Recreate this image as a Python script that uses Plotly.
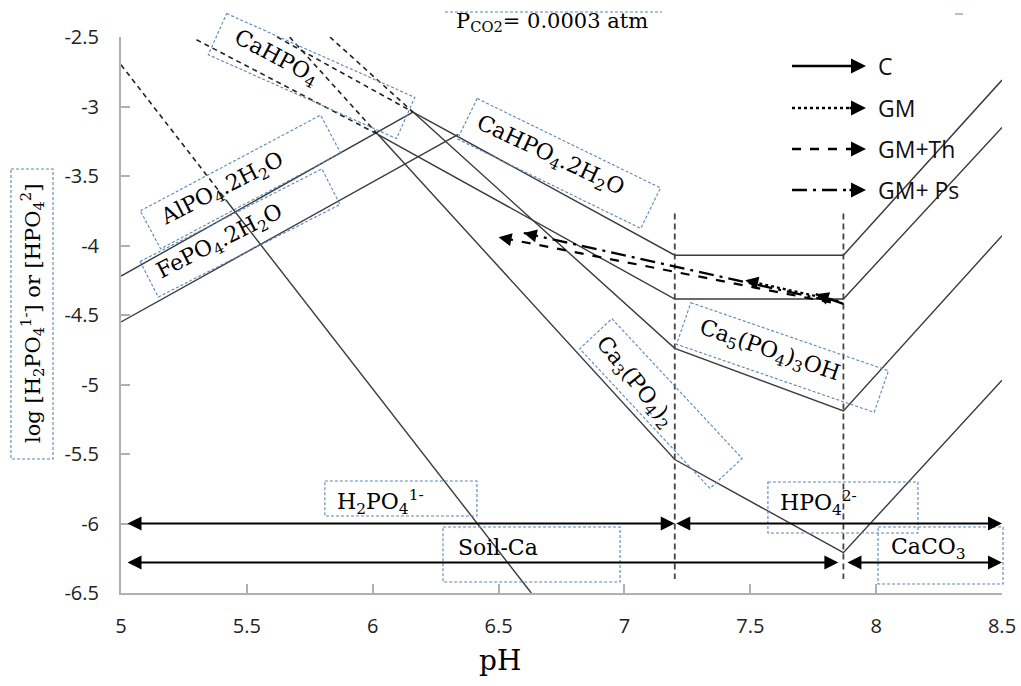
import math
import plotly.graph_objects as go

# ---------------- data (pH, log activity) ----------------
xtick_vals = [5, 5.5, 6, 6.5, 7, 7.5, 8, 8.5]
xtick_text = ["5", "5.5", "6", "6.5", "7", "7.5", "8", "8.5"]
ytick_vals = [-2.5, -3, -3.5, -4, -4.5, -5, -5.5, -6, -6.5]
ytick_text = ["-2.5", "-3", "-3.5", "-4", "-4.5", "-5", "-5.5", "-6", "-6.5"]

alpo4_ph = [5.0, 6.16]
alpo4_log = [-4.22, -3.04]
fepo4_ph = [5.0, 6.34]
fepo4_log = [-4.55, -3.20]
dcpd_ph = [6.16, 7.2, 7.87, 8.5]
dcpd_log = [-3.04, -4.07, -4.07, -2.81]
dcpa_ph = [6.02, 7.2, 7.87, 8.5]
dcpa_log = [-3.20, -4.385, -4.385, -3.15]
ha_ph = [6.16, 7.2, 7.87, 8.5]
ha_log = [-3.04, -4.74, -5.19, -3.93]
tcp_ph = [6.02, 7.2, 7.87, 8.5]
tcp_log = [-3.20, -5.54, -6.21, -4.97]
steep_ph = [5.42, 6.63]
steep_log = [-3.68, -6.5]

# metastable (dashed) extensions
dcpd_dash_ph = [5.62, 6.16]
dcpd_dash_log = [-2.5, -3.04]
dcpa_dash_ph = [5.30, 6.02]
dcpa_dash_log = [-2.52, -3.20]
ha_dash_ph = [5.83, 6.16]
ha_dash_log = [-2.5, -3.04]
tcp_dash_ph = [5.67, 6.02]
tcp_dash_log = [-2.5, -3.20]
steep_dash_ph = [5.0, 5.42]
steep_dash_log = [-2.70, -3.68]

# H2PO4/HPO4 and soil-Ca/CaCO3 boundaries
boundary_ph = [7.2, 7.87]
boundary_log = [-3.77, -6.40]

# treatment arrows
treat_names = ["C", "GM", "GM+Th", "GM+ Ps"]
treat_ph0 = [7.87, 7.85, 7.82, 7.82]
treat_log0 = [-4.42, -4.40, -4.41, -4.40]
treat_ph1 = [7.76, 7.48, 6.50, 6.60]
treat_log1 = [-4.35, -4.25, -3.94, -3.91]

# range arrows
range_ph0 = [5.02, 7.2, 5.02, 7.88]
range_ph1 = [7.2, 8.5, 7.85, 8.5]
range_log = [-6.0, -6.0, -6.28, -6.28]

# ---------------- geometry helpers ----------------
W, H = 1021, 686
L, T, PW, PH = 121, 37, 881, 556
X0, X1, Y0, Y1 = 5.0, 8.5, -6.5, -2.5


def d2px(x, y):
    return L + (x - X0) / (X1 - X0) * PW, T + (Y1 - y) / (Y1 - Y0) * PH


def px2paper(px, py):
    return (px - L) / PW, (T + PH - py) / PH


def rot_box_path(cxp, cyp, w, h, ang):
    a = math.radians(ang)
    pts = []
    for sx, sy in [(-1, -1), (1, -1), (1, 1), (-1, 1)]:
        dx, dy = sx * w / 2, sy * h / 2
        px = cxp + dx * math.cos(a) - dy * math.sin(a)
        py = cyp + dx * math.sin(a) + dy * math.cos(a)
        pts.append(px2paper(px, py))
    return "M " + " L ".join(f"{p[0]:.4f},{p[1]:.4f}" for p in pts) + " Z"


LINE_C = "#3a3a3a"
BOX_C = "#5a86b8"
SERIF = "DejaVu Serif"
SANS = "Open Sans"

fig = go.Figure()

for xs, ys in [(alpo4_ph, alpo4_log), (fepo4_ph, fepo4_log), (dcpd_ph, dcpd_log),
               (dcpa_ph, dcpa_log), (ha_ph, ha_log), (tcp_ph, tcp_log), (steep_ph, steep_log)]:
    fig.add_trace(go.Scatter(x=xs, y=ys, mode="lines", line=dict(color=LINE_C, width=1.4),
                             showlegend=False, hoverinfo="skip"))

for xs, ys in [(dcpd_dash_ph, dcpd_dash_log), (dcpa_dash_ph, dcpa_dash_log), (ha_dash_ph, ha_dash_log),
               (tcp_dash_ph, tcp_dash_log), (steep_dash_ph, steep_dash_log)]:
    fig.add_trace(go.Scatter(x=xs, y=ys, mode="lines", line=dict(color="#222", width=1.6, dash="5px,4px"),
                             showlegend=False, hoverinfo="skip"))

for bx in boundary_ph:
    fig.add_trace(go.Scatter(x=[bx, bx], y=boundary_log, mode="lines",
                             line=dict(color="#444", width=1.8, dash="6px,4px"),
                             showlegend=False, hoverinfo="skip"))

annotations = []
shapes = []

dash_map = {"C": "solid", "GM": "dot", "GM+Th": "dash", "GM+ Ps": "longdashdot"}

# treatment arrows in the diagram
for name, x0, y0, x1, y1 in zip(treat_names, treat_ph0, treat_log0, treat_ph1, treat_log1):
    fig.add_trace(go.Scatter(x=[x0, x1], y=[y0, y1], mode="lines",
                             line=dict(color="black", width=2.2, dash=dash_map[name]),
                             showlegend=False, hoverinfo="skip"))
    p0, p1 = d2px(x0, y0), d2px(x1, y1)
    sx, sy = p1[0] - p0[0], p1[1] - p0[1]
    n = math.hypot(sx, sy)
    hl = 10
    annotations.append(dict(x=x1, y=y1, xref="x", yref="y", text="", showarrow=True,
                            ax=-sx / n * hl, ay=-sy / n * hl, arrowhead=2, arrowsize=1.3,
                            arrowwidth=2, arrowcolor="black"))

# range arrows (double-headed)
for x0, x1, y in zip(range_ph0, range_ph1, range_log):
    annotations.append(dict(x=x1, y=y, xref="x", yref="y", ax=x0, ay=y, axref="x", ayref="y",
                            text="", showarrow=True, arrowside="end+start", arrowhead=2,
                            startarrowhead=2, arrowsize=1.4, startarrowsize=1.4,
                            arrowwidth=2, arrowcolor="black"))

# legend (top right)
leg_y_px = [66, 108, 149, 190]
for name, ly in zip(treat_names, leg_y_px):
    xa, yp = px2paper(792, ly)
    xb, _ = px2paper(850, ly)
    xh, _ = px2paper(866, ly)
    shapes.append(dict(type="line", xref="paper", yref="paper", x0=xa, x1=xb, y0=yp, y1=yp,
                       line=dict(color="black", width=2.5, dash=dash_map[name])))
    annotations.append(dict(x=xh, y=yp, xref="paper", yref="paper", text="", showarrow=True,
                            ax=-18, ay=0, arrowhead=2, arrowsize=1.2, arrowwidth=2.5,
                            arrowcolor="black"))
    xt, _ = px2paper(876, ly)
    annotations.append(dict(x=xt, y=yp, xref="paper", yref="paper", text=name, showarrow=False,
                            xanchor="left", yanchor="middle",
                            font=dict(family=SANS, size=23, color="#111")))

# species labels (text, pH, log, angle)
labels = [
    ("CaHPO<sub>4</sub>", 5.616, -2.655, 28),
    ("AlPO<sub>4</sub>.2H<sub>2</sub>O", 5.405, -3.594, -27),
    ("FePO<sub>4</sub>.2H<sub>2</sub>O", 5.393, -3.975, -27),
    ("CaHPO<sub>4</sub>.2H<sub>2</sub>O", 6.704, -3.363, 25),
    ("Ca<sub>5</sub>(PO<sub>4</sub>)<sub>3</sub>OH", 7.575, -4.766, 19),
    ("Ca<sub>3</sub>(PO<sub>4</sub>)<sub>2</sub>", 7.038, -4.989, 51),
    ("H<sub>2</sub>PO<sub>4</sub><sup>1-</sup>", 6.029, -5.845, 0),
    ("Soil-Ca", 6.498, -6.176, 0),
    ("HPO<sub>4</sub><sup>2-</sup>", 7.769, -5.853, 0),
    ("CaCO<sub>3</sub>", 8.206, -6.183, 0),
]
for txt, x, y, ang in labels:
    annotations.append(dict(x=x, y=y, xref="x", yref="y", text=txt, showarrow=False,
                            xanchor="center", yanchor="middle",
                            textangle=ang, font=dict(family=SERIF, size=22, color="black")))

# dashed label frames (pH, log, width px, height px, angle)
boxes = [
    (5.757, -2.781, 206, 45, 24),
    (5.475, -3.543, 204, 43, -28),
    (5.473, -3.910, 204, 40, -27),
    (6.740, -3.410, 204, 45, 26),
    (7.628, -4.806, 209, 44, 19),
    (7.145, -5.137, 191, 44, 47),
    (6.112, -5.820, 152, 35, 0),
    (6.631, -6.223, 177, 55, 0),
    (7.868, -5.885, 150, 51, 0),
    (8.256, -6.230, 125, 57, 0),
]
for x, y, w, h, ang in boxes:
    cx, cy = d2px(x, y)
    shapes.append(dict(type="path", xref="paper", yref="paper", path=rot_box_path(cx, cy, w, h, ang),
                       line=dict(color=BOX_C, width=1.1, dash="3px,2px")))

# y-axis title in dashed frame
shapes.append(dict(type="path", xref="paper", yref="paper", path=rot_box_path(32, 314, 42, 290, 0),
                   line=dict(color=BOX_C, width=1.1, dash="3px,2px")))
tx, ty = px2paper(32, 314)
annotations.append(dict(x=tx, y=ty, xref="paper", yref="paper", xanchor="center", yanchor="middle",
                        text="log [H<sub>2</sub>PO<sub>4</sub><sup>1-</sup>] or [HPO<sub>4</sub><sup>2</sup>]",
                        textangle=-90, showarrow=False, font=dict(family=SERIF, size=21, color="black")))

# P_CO2 header
tx, ty = px2paper(552, 22)
annotations.append(dict(x=tx, y=ty, xref="paper", yref="paper", xanchor="center", yanchor="middle",
                        text="P<sub>CO2</sub>= 0.0003 atm", showarrow=False,
                        font=dict(family=SERIF, size=21, color="black")))
xa, ya = px2paper(445, 12)
xb, _ = px2paper(662, 12)
shapes.append(dict(type="line", xref="paper", yref="paper", x0=xa, x1=xb, y0=ya, y1=ya,
                   line=dict(color=BOX_C, width=1, dash="3px,2px")))
xa, ya = px2paper(955, 14)
xb, _ = px2paper(963, 14)
shapes.append(dict(type="line", xref="paper", yref="paper", x0=xa, x1=xb, y0=ya, y1=ya,
                   line=dict(color=BOX_C, width=1)))

# x-axis title
tx, ty = px2paper(500, 660)
annotations.append(dict(x=tx, y=ty, xref="paper", yref="paper", xanchor="center", yanchor="middle",
                        text="pH", showarrow=False,
                        font=dict(family=SERIF, size=28, color="black")))

axis_common = dict(showgrid=False, zeroline=False, showline=True, linecolor="#b0b0b0", linewidth=2,
                   ticks="inside", ticklen=9, tickwidth=1.5, tickcolor="#b0b0b0", automargin=False,
                   tickfont=dict(family=SANS, size=20, color="#222"))

fig.update_layout(
    width=W, height=H,
    margin=dict(l=L, r=W - L - PW, t=T, b=H - T - PH),
    paper_bgcolor="white", plot_bgcolor="white",
    showlegend=False,
    xaxis=dict(range=[X0, X1], tickvals=xtick_vals, ticktext=xtick_text, ticklabelstandoff=14,
               **axis_common),
    yaxis=dict(range=[Y0, Y1], tickvals=ytick_vals, ticktext=ytick_text, ticklabelstandoff=16,
               **axis_common),
    annotations=annotations,
    shapes=shapes,
)

fig.write_html("out.html", config={"displayModeBar": False},
               post_script="document.body.style.margin='0';document.body.style.overflow='hidden';")
